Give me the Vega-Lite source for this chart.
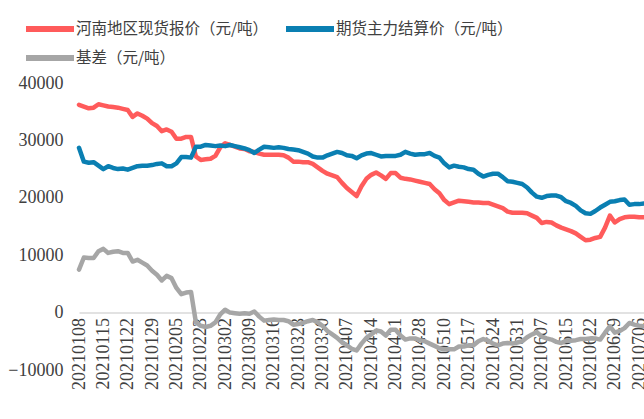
{
  "$schema": "https://vega.github.io/schema/vega-lite/v6.json",
  "autosize": {"type": "none"},
  "width": 565,
  "height": 287,
  "padding": {"left": 79, "top": 83, "right": 0, "bottom": 49},
  "background": "white",
  "config": {"view": {"stroke": null}},
  "data": {
    "values": [
      {"d":"20210108","spot":36200,"fut":28700,"basis":7500},
      {"d":"20210111","spot":35900,"fut":26300,"basis":9600},
      {"d":"20210112","spot":35600,"fut":26100,"basis":9500},
      {"d":"20210113","spot":35700,"fut":26200,"basis":9500},
      {"d":"20210114","spot":36300,"fut":25600,"basis":10700},
      {"d":"20210115","spot":36100,"fut":25000,"basis":11100},
      {"d":"20210118","spot":35900,"fut":25500,"basis":10400},
      {"d":"20210119","spot":35800,"fut":25200,"basis":10600},
      {"d":"20210120","spot":35700,"fut":25000,"basis":10700},
      {"d":"20210121","spot":35500,"fut":25100,"basis":10400},
      {"d":"20210122","spot":35300,"fut":24900,"basis":10400},
      {"d":"20210125","spot":34100,"fut":25200,"basis":8900},
      {"d":"20210126","spot":34700,"fut":25500,"basis":9200},
      {"d":"20210127","spot":34300,"fut":25600,"basis":8700},
      {"d":"20210128","spot":33800,"fut":25600,"basis":8200},
      {"d":"20210129","spot":33000,"fut":25700,"basis":7300},
      {"d":"20210201","spot":32500,"fut":25900,"basis":6600},
      {"d":"20210202","spot":31600,"fut":26000,"basis":5600},
      {"d":"20210203","spot":31900,"fut":25500,"basis":6400},
      {"d":"20210204","spot":31500,"fut":25500,"basis":6000},
      {"d":"20210205","spot":30300,"fut":26000,"basis":4300},
      {"d":"20210208","spot":30300,"fut":27100,"basis":3200},
      {"d":"20210209","spot":30600,"fut":27100,"basis":3500},
      {"d":"20210219","spot":30600,"fut":27000,"basis":3600},
      {"d":"20210222","spot":27200,"fut":28900,"basis":-1700},
      {"d":"20210223","spot":26600,"fut":28900,"basis":-2300},
      {"d":"20210224","spot":26700,"fut":29200,"basis":-2500},
      {"d":"20210225","spot":26800,"fut":29100,"basis":-2300},
      {"d":"20210226","spot":27300,"fut":29000,"basis":-1700},
      {"d":"20210301","spot":28800,"fut":29100,"basis":-300},
      {"d":"20210302","spot":29500,"fut":29000,"basis":500},
      {"d":"20210303","spot":29200,"fut":29200,"basis":0},
      {"d":"20210304","spot":28900,"fut":29000,"basis":-100},
      {"d":"20210305","spot":28600,"fut":28800,"basis":-200},
      {"d":"20210308","spot":28500,"fut":28600,"basis":-100},
      {"d":"20210309","spot":28100,"fut":28300,"basis":-200},
      {"d":"20210310","spot":28000,"fut":27800,"basis":200},
      {"d":"20210311","spot":27700,"fut":28400,"basis":-700},
      {"d":"20210312","spot":27500,"fut":28900,"basis":-1400},
      {"d":"20210315","spot":27500,"fut":28800,"basis":-1300},
      {"d":"20210316","spot":27500,"fut":28700,"basis":-1200},
      {"d":"20210317","spot":27500,"fut":28800,"basis":-1300},
      {"d":"20210318","spot":27400,"fut":28700,"basis":-1300},
      {"d":"20210319","spot":27000,"fut":28500,"basis":-1500},
      {"d":"20210322","spot":26300,"fut":28400,"basis":-2100},
      {"d":"20210323","spot":26300,"fut":28300,"basis":-2000},
      {"d":"20210324","spot":26200,"fut":28000,"basis":-1800},
      {"d":"20210325","spot":26200,"fut":27700,"basis":-1500},
      {"d":"20210326","spot":25900,"fut":27200,"basis":-1300},
      {"d":"20210329","spot":25300,"fut":27000,"basis":-1700},
      {"d":"20210330","spot":24700,"fut":27000,"basis":-2300},
      {"d":"20210331","spot":24200,"fut":27400,"basis":-3200},
      {"d":"20210401","spot":23900,"fut":27700,"basis":-3800},
      {"d":"20210402","spot":23600,"fut":28000,"basis":-4400},
      {"d":"20210406","spot":22600,"fut":27800,"basis":-5200},
      {"d":"20210407","spot":21700,"fut":27400,"basis":-5700},
      {"d":"20210408","spot":21000,"fut":27300,"basis":-6300},
      {"d":"20210409","spot":20300,"fut":26900,"basis":-6600},
      {"d":"20210412","spot":22000,"fut":27400,"basis":-5400},
      {"d":"20210413","spot":23300,"fut":27700,"basis":-4400},
      {"d":"20210414","spot":24000,"fut":27800,"basis":-3800},
      {"d":"20210415","spot":24400,"fut":27500,"basis":-3100},
      {"d":"20210416","spot":23900,"fut":27200,"basis":-3300},
      {"d":"20210419","spot":23300,"fut":27300,"basis":-4000},
      {"d":"20210420","spot":24300,"fut":27300,"basis":-3000},
      {"d":"20210421","spot":24300,"fut":27300,"basis":-3000},
      {"d":"20210422","spot":23500,"fut":27500,"basis":-4000},
      {"d":"20210423","spot":23300,"fut":28000,"basis":-4700},
      {"d":"20210426","spot":23200,"fut":27700,"basis":-4500},
      {"d":"20210427","spot":23000,"fut":27500,"basis":-4500},
      {"d":"20210428","spot":22800,"fut":27600,"basis":-4800},
      {"d":"20210429","spot":22600,"fut":27600,"basis":-5000},
      {"d":"20210430","spot":22400,"fut":27800,"basis":-5400},
      {"d":"20210506","spot":21500,"fut":27300,"basis":-5800},
      {"d":"20210507","spot":20800,"fut":27000,"basis":-6200},
      {"d":"20210510","spot":19600,"fut":26000,"basis":-6400},
      {"d":"20210511","spot":18900,"fut":25300,"basis":-6400},
      {"d":"20210512","spot":19200,"fut":25600,"basis":-6400},
      {"d":"20210513","spot":19500,"fut":25400,"basis":-5900},
      {"d":"20210514","spot":19400,"fut":25300,"basis":-5900},
      {"d":"20210517","spot":19300,"fut":25000,"basis":-5700},
      {"d":"20210518","spot":19200,"fut":24900,"basis":-5700},
      {"d":"20210519","spot":19200,"fut":24200,"basis":-5000},
      {"d":"20210520","spot":19100,"fut":23700,"basis":-4600},
      {"d":"20210521","spot":19100,"fut":24000,"basis":-4900},
      {"d":"20210524","spot":18800,"fut":24200,"basis":-5400},
      {"d":"20210525","spot":18500,"fut":24200,"basis":-5700},
      {"d":"20210526","spot":18200,"fut":23600,"basis":-5400},
      {"d":"20210527","spot":17600,"fut":22900,"basis":-5300},
      {"d":"20210528","spot":17400,"fut":22800,"basis":-5400},
      {"d":"20210531","spot":17400,"fut":22600,"basis":-5200},
      {"d":"20210601","spot":17400,"fut":22400,"basis":-5000},
      {"d":"20210602","spot":17300,"fut":21800,"basis":-4300},
      {"d":"20210603","spot":16900,"fut":20900,"basis":-3800},
      {"d":"20210604","spot":16500,"fut":20200,"basis":-3400},
      {"d":"20210607","spot":15600,"fut":20000,"basis":-4200},
      {"d":"20210608","spot":15800,"fut":20300,"basis":-4500},
      {"d":"20210609","spot":15700,"fut":20400,"basis":-4700},
      {"d":"20210610","spot":15200,"fut":20400,"basis":-5100},
      {"d":"20210611","spot":14800,"fut":20100,"basis":-5300},
      {"d":"20210615","spot":14500,"fut":19400,"basis":-4900},
      {"d":"20210616","spot":14200,"fut":19100,"basis":-4900},
      {"d":"20210617","spot":13800,"fut":18600,"basis":-4800},
      {"d":"20210618","spot":13200,"fut":17800,"basis":-4600},
      {"d":"20210621","spot":12600,"fut":17300,"basis":-4600},
      {"d":"20210622","spot":12700,"fut":17200,"basis":-4500},
      {"d":"20210623","spot":13000,"fut":17700,"basis":-4500},
      {"d":"20210624","spot":13200,"fut":18300,"basis":-4700},
      {"d":"20210625","spot":14800,"fut":18800,"basis":-3500},
      {"d":"20210628","spot":16900,"fut":19300,"basis":-2400},
      {"d":"20210629","spot":15700,"fut":19400,"basis":-3500},
      {"d":"20210630","spot":16300,"fut":19600,"basis":-3200},
      {"d":"20210701","spot":16600,"fut":19700,"basis":-2700},
      {"d":"20210702","spot":16700,"fut":18800,"basis":-1800},
      {"d":"20210705","spot":16700,"fut":18900,"basis":-2100},
      {"d":"20210706","spot":16600,"fut":18900,"basis":-2300},
      {"d":"20210707","spot":16600,"fut":19000,"basis":-2400}
    ]
  },
  "transform": [{"fold": ["spot", "fut", "basis"], "as": ["series", "value"]}],
  "mark": {"type": "line", "strokeWidth": 4.5, "strokeJoin": "round", "strokeCap": "round"},
  "encoding": {
    "x": {
      "field": "d",
      "type": "ordinal",
      "scale": {"type": "point", "padding": 0},
      "axis": {
        "title": null,
        "values": ["20210108","20210115","20210122","20210129","20210205","20210223","20210302","20210309","20210316","20210323","20210330","20210407","20210414","20210421","20210428","20210510","20210517","20210524","20210531","20210607","20210615","20210622","20210629","20210706"],
        "offset": -57.4,
        "labelAngle": -90,
        "labelAlign": "right",
        "labelBaseline": "middle",
        "labelFont": "Liberation Serif",
        "labelFontSize": 18,
        "labelColor": "#404040",
        "labelPadding": 5,
        "ticks": false,
        "tickSize": 0,
        "domainColor": "#d9d9d9",
        "domainWidth": 1.5,
        "grid": false,
        "labelOverlap": false
      }
    },
    "y": {
      "field": "value",
      "type": "quantitative",
      "scale": {"domain": [-10000, 40000], "nice": false, "zero": false},
      "axis": {
        "title": null,
        "values": [-10000, 0, 10000, 20000, 30000, 40000],
        "format": "d",
        "domain": false,
        "ticks": false,
        "tickSize": 0,
        "grid": false,
        "labelFont": "Liberation Serif",
        "labelFontSize": 18,
        "labelColor": "#404040",
        "labelPadding": 16
      }
    },
    "color": {
      "field": "series",
      "type": "nominal",
      "scale": {"domain": ["spot", "fut", "basis"], "range": ["#FF5B5B", "#0A7FB2", "#A6A6A6"]},
      "legend": {
        "title": null,
        "orient": "none",
        "legendX": -44,
        "legendY": -69,
        "direction": "horizontal",
        "columns": 2,
        "columnPadding": 5,
        "rowPadding": 2,
        "symbolType": "M-2,0H2",
        "symbolSize": 576,
        "symbolStrokeWidth": 6,
        "labelOffset": 11,
        "labelFont": "Noto Sans CJK SC",
        "labelFontSize": 15.5,
        "labelColor": "#404040",
        "labelLimit": 400,
        "labelExpr": "datum.value == 'spot' ? '河南地区现货报价（元/吨）' : datum.value == 'fut' ? '期货主力结算价（元/吨）' : '基差（元/吨）'"
      }
    }
  }
}
